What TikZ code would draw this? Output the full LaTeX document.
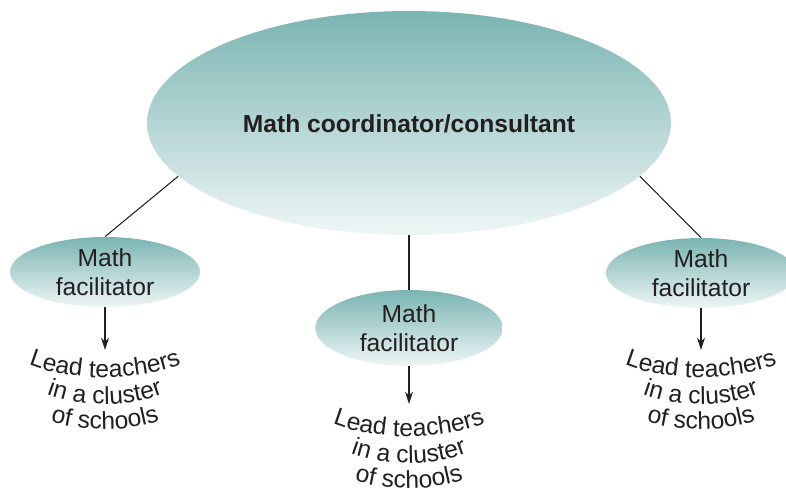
\documentclass[tikz,border=0pt]{standalone}
\usepackage{fontspec}
\setmainfont{Liberation Sans}
\usetikzlibrary{shapes.geometric, arrows.meta, decorations.text}

\definecolor{tealtop}{RGB}{122,180,178}
\definecolor{tealbot}{RGB}{238,246,245}
\definecolor{ink}{RGB}{35,31,32}

\tikzset{
  role/.style={ellipse, inner sep=0pt, inner ysep=-4pt, top color=tealtop, bottom color=tealbot,
    text=ink, align=center, font=\fontsize{14}{16.4}\selectfont},
  link/.style={draw=ink, line width=0.6pt},
  feed/.style={draw=ink, line width=0.7pt, -{Stealth[length=7pt, width=4.5pt]}},
  arched/.style={decorate, decoration={text along path, text align=center,
    text={|\fontsize{14}{16}\selectfont\color{ink}|#1}}}
}

\begin{document}
\begin{tikzpicture}[x=0.02cm, y=-0.02cm]
  \clip (0,0) rectangle (786,488);

  % coordinator and the three facilitators
  \node[role, minimum width=10.48cm, minimum height=4.48cm, text height=14pt, text depth=3pt,
        font=\bfseries\fontsize{14}{16}\selectfont] (coord) at (409,123) {Math coordinator/consultant};
  \node[role, minimum width=3.8cm, minimum height=1.4cm] (fac1) at (105,272) {Math\\facilitator};
  \node[role, minimum width=3.75cm, minimum height=1.52cm] (fac2) at (409,328) {Math\\facilitator};
  \node[role, minimum width=3.8cm, minimum height=1.4cm] (fac3) at (701,273) {Math\\facilitator};

  \draw[link] (coord.193) -- (fac1.north);
  \draw[link] (coord.south) -- (fac2.north);
  \draw[link] (coord.347) -- (fac3.north);

  % arrows down to the lead teachers
  \coordinate (lt1) at (105,350);
  \coordinate (lt2) at (409,404);
  \coordinate (lt3) at (701,350);
  \draw[feed] (fac1) -- (lt1);
  \draw[feed] (fac2) -- (lt2);
  \draw[feed] (fac3) -- (lt3);

  % curved labels
  \path[arched={Lead teachers}] (15,358) .. controls (60,384) and (150,384) .. (195,358);
  \path[arched={in a cluster}] (30,387) .. controls (70,410) and (140,410) .. (180,386);
  \path[arched={of schools}] (35,416) .. controls (75,434) and (135,434) .. (175,415);

  \begin{scope}[shift={(304,59)}]
    \path[arched={Lead teachers}] (15,358) .. controls (60,384) and (150,384) .. (195,358);
    \path[arched={in a cluster}] (30,387) .. controls (70,410) and (140,410) .. (180,386);
    \path[arched={of schools}] (35,416) .. controls (75,434) and (135,434) .. (175,415);
  \end{scope}

  \begin{scope}[shift={(596,0)}]
    \path[arched={Lead teachers}] (15,358) .. controls (60,384) and (150,384) .. (195,358);
    \path[arched={in a cluster}] (30,387) .. controls (70,410) and (140,410) .. (180,386);
    \path[arched={of schools}] (35,416) .. controls (75,434) and (135,434) .. (175,415);
  \end{scope}
\end{tikzpicture}
\end{document}
